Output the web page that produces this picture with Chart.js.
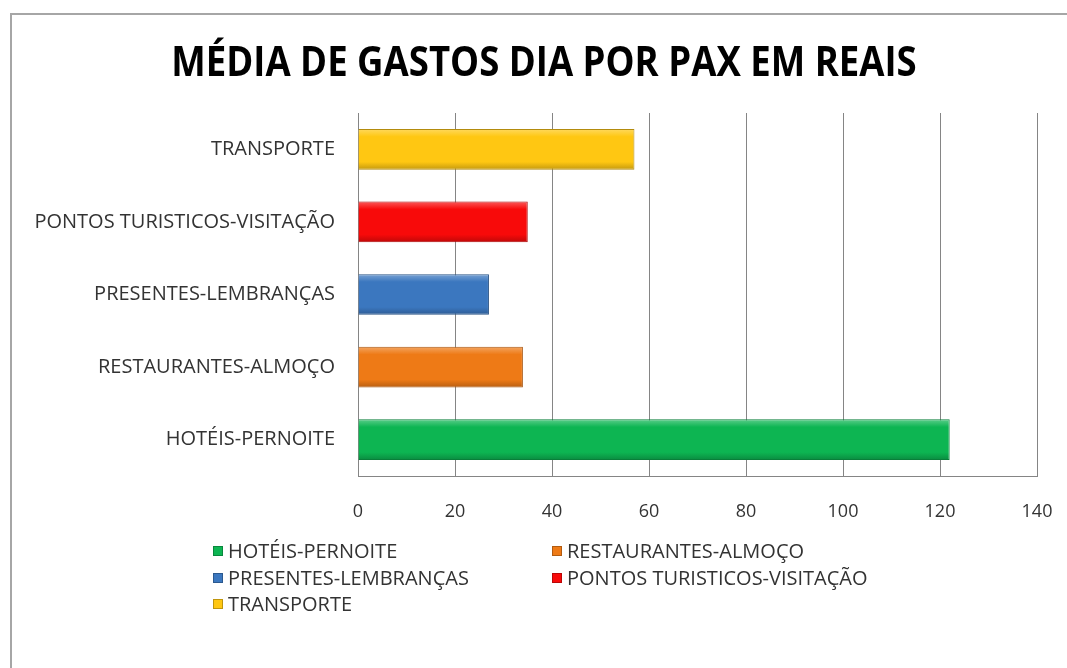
<!DOCTYPE html>
<html>
<head>
<meta charset="utf-8">
<script src="https://cdn.jsdelivr.net/npm/chart.js@4"></script>
<style>
  html, body { margin:0; padding:0; background:#fff; }
  #wrap { position:relative; width:1067px; height:668px; overflow:hidden; }
  #frame { position:absolute; left:10px; top:13px; width:1080px; height:700px; border:2px solid #a6a6a6; box-sizing:border-box; pointer-events:none; }
  canvas { position:absolute; left:0; top:0; }
  #title { position:absolute; left:544px; top:39px; transform:translateX(-50%) scaleX(0.87); transform-origin:center; white-space:nowrap;
           font-family:"Open Sans", sans-serif; font-weight:bold; font-size:42px; line-height:42px; color:#000; }
  #legend { position:absolute; left:213px; top:538px; font-family:"Open Sans", sans-serif; font-size:20px; color:#333; }
  .item { position:absolute; white-space:nowrap; line-height:26px; display:flex; align-items:center; }
  .sw { width:10px; height:10px; margin-right:5px; box-sizing:border-box; border:1px solid rgba(0,0,0,0.25); }
</style>
</head>
<body>
<div id="wrap">
  <canvas id="c" width="1067" height="668"></canvas>
  <div id="frame"></div>
  <div id="title"></div>
  <div id="legend"></div>
</div>
<script>
const title = "MÉDIA DE GASTOS DIA POR PAX EM REAIS";
const categories = ["HOTÉIS-PERNOITE", "RESTAURANTES-ALMOÇO", "PRESENTES-LEMBRANÇAS", "PONTOS TURISTICOS-VISITAÇÃO", "TRANSPORTE"];
const values = [122, 34, 27, 35, 57];
const colors = ["#0db552", "#ee7a16", "#3b77bf", "#f80a0a", "#ffc712"];
const xTicks = [0, 20, 40, 60, 80, 100, 120, 140];

document.getElementById("title").textContent = title;

function shade(hex, amt) {
  const n = parseInt(hex.slice(1), 16);
  let r = (n >> 16) & 255, g = (n >> 8) & 255, b = n & 255;
  const f = v => Math.max(0, Math.min(255, Math.round(amt >= 0 ? v + (255 - v) * amt : v * (1 + amt))));
  return `rgb(${f(r)},${f(g)},${f(b)})`;
}

function barFill(ctx, base) {
  const chart = ctx.chart;
  const ys = chart.scales && chart.scales.y;
  if (!chart.chartArea || !ys) return base;
  const cy = ys.getPixelForValue(ctx.dataIndex);
  const h = 21;
  const g = chart.ctx.createLinearGradient(0, cy - h, 0, cy + h);
  g.addColorStop(0, shade(base, 0.35));
  g.addColorStop(0.2, base);
  g.addColorStop(0.8, base);
  g.addColorStop(1, shade(base, -0.25));
  return g;
}

const datasets = categories.map((name, i) => ({
  label: name,
  data: categories.map((_, j) => j === i ? values[i] : null),
  backgroundColor: ctx => barFill(ctx, colors[i]),
  borderColor: shade(colors[i], -0.3),
  borderWidth: 1,
  categoryPercentage: 0.8,
  barPercentage: 0.7
}));

new Chart(document.getElementById("c"), {
  type: "bar",
  data: { labels: categories, datasets },
  options: {
    indexAxis: "y",
    responsive: false,
    animation: false,
    layout: { padding: { top: 113, left: 0, right: 30, bottom: 142 } },
    plugins: {
      legend: { display: false },
      tooltip: { enabled: false },
      title: { display: false }
    },
    scales: {
      x: {
        stacked: true,
        min: 0, max: 140,
        afterBuildTicks: s => { s.ticks = xTicks.map(v => ({ value: v })); },
        afterFit: s => { s.height = 50; s.paddingLeft = 0; s.paddingRight = 0; },
        ticks: { color: "#333", font: { family: "Open Sans", size: 18 }, padding: 25 },
        grid: { color: "#858585", lineWidth: 1, drawTicks: false },
        border: { color: "#858585", width: 1 }
      },
      y: {
        stacked: true,
        reverse: true,
        afterFit: s => { s.width = 358; s.paddingTop = 0; s.paddingBottom = 0; },
        ticks: { color: "#333", font: { family: "Open Sans", size: 20 }, padding: 23 },
        grid: { display: false, drawTicks: false },
        border: { color: "#858585", width: 1 }
      }
    }
  }
});

const legend = document.getElementById("legend");
categories.forEach((name, k) => {
  const el = document.createElement("div");
  el.className = "item";
  el.style.left = (k % 2 === 0 ? 0 : 339) + "px";
  el.style.top = (Math.floor(k / 2) * 26.5) + "px";
  el.innerHTML = `<span class="sw" style="background:${colors[k]}"></span>${name}`;
  legend.appendChild(el);
});
</script>
</body>
</html>
